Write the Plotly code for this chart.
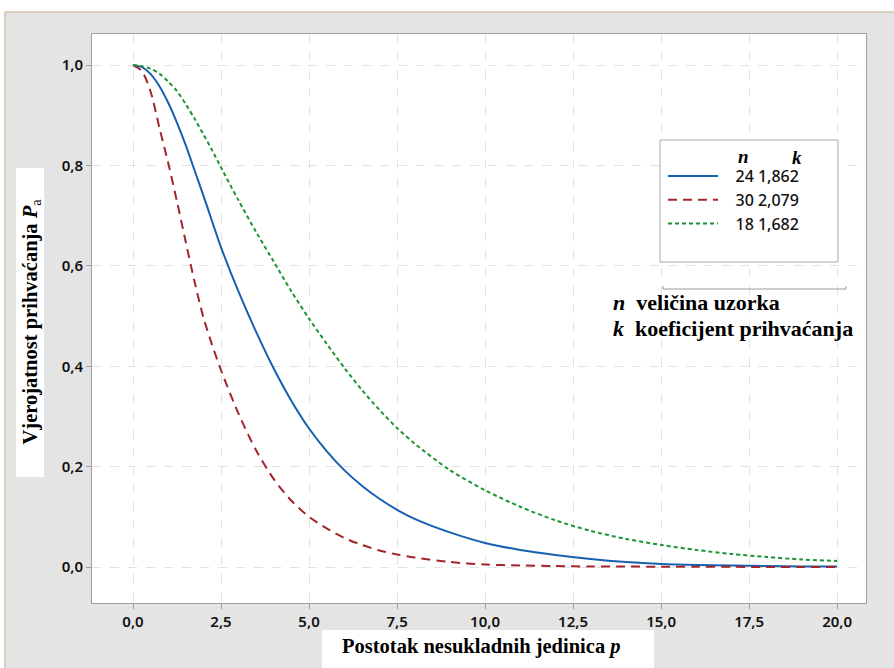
import plotly.graph_objects as go

# Postotak nesukladnih jedinica p (%)
p = [0, 0.25, 0.5, 0.75, 1.0, 1.25, 1.5, 1.75, 2.0, 2.25, 2.5, 3.0, 3.5, 4.0, 4.5,
     5.0, 5.5, 6.0, 6.5, 7.0, 7.5, 8.0, 9.0, 10.0, 11.0, 12.0, 13.0, 14.0, 15.0,
     16.0, 17.0, 18.0, 19.0, 20.0]

# n = 24, k = 1,862
pa_24 = [1.0, 0.996, 0.982, 0.958, 0.925, 0.885, 0.84, 0.79, 0.74, 0.688, 0.637, 0.548,
         0.468, 0.395, 0.331, 0.276, 0.231, 0.193, 0.162, 0.136, 0.114, 0.096, 0.069,
         0.048, 0.034, 0.024, 0.016, 0.010, 0.006, 0.004, 0.003, 0.002, 0.001, 0.001]

# n = 30, k = 2,079
pa_30 = [1.0, 0.988, 0.947, 0.875, 0.805, 0.728, 0.647, 0.568, 0.497, 0.442, 0.392, 0.305,
         0.232, 0.175, 0.132, 0.100, 0.077, 0.058, 0.044, 0.033, 0.025, 0.019, 0.010,
         0.005, 0.003, 0.002, 0.001, 0.001, 0.0005, 0.0004, 0.0003, 0.0002, 0.0001, 0.0]

# n = 18, k = 1,682
pa_18 = [1.0, 0.998, 0.993, 0.983, 0.967, 0.948, 0.922, 0.893, 0.862, 0.83, 0.796, 0.73,
         0.667, 0.608, 0.549, 0.495, 0.445, 0.397, 0.353, 0.313, 0.277, 0.246, 0.193,
         0.153, 0.12, 0.093, 0.072, 0.056, 0.044, 0.034, 0.026, 0.020, 0.015, 0.012]

series_names = ["24 1,862", "30 2,079", "18 1,682"]
x_ticks = [0, 2.5, 5, 7.5, 10, 12.5, 15, 17.5, 20]
y_ticks = [0, 0.2, 0.4, 0.6, 0.8, 1.0]

W, H = 894, 668
L, R, T, B = 92, 866, 34, 603  # plot area in pixels


def px(x):
    return (x - L) / (R - L)


def py(y):
    return (B - y) / (B - T)


fig = go.Figure()
styles = [
    dict(color="#1560b0", width=2, dash="solid"),
    dict(color="#a3242a", width=2, dash="9px,6px"),
    dict(color="#1d9433", width=2, dash="4px,3px"),
]
pad = "\u00a0\u00a0\u00a0"
for name, ys, st, g in zip(series_names, [pa_24, pa_30, pa_18], styles, ["a", "b", "c"]):
    fig.add_trace(go.Scatter(x=p, y=ys, mode="lines", name=pad + name, line=st,
                             line_shape="spline", line_smoothing=0.8, legendgroup=g))

serif = "Liberation Serif"
sans = "Noto Sans"

shapes = [
    dict(type="rect", xref="paper", yref="paper", x0=px(0), x1=px(W), y0=py(12), y1=py(0),
         fillcolor="white", line=dict(width=0), layer="below"),
    dict(type="rect", xref="paper", yref="paper", x0=px(0), x1=px(5), y0=py(H), y1=py(12),
         fillcolor="white", line=dict(width=0), layer="below"),
    dict(type="line", xref="paper", yref="paper", x0=px(5), x1=px(W), y0=py(12), y1=py(12),
         line=dict(color="#d8d0b8", width=2)),
    dict(type="line", xref="paper", yref="paper", x0=px(5), x1=px(5), y0=py(H), y1=py(12),
         line=dict(color="#d8d0b8", width=2)),
    dict(type="rect", xref="paper", yref="paper", x0=px(16), x1=px(44), y0=py(477), y1=py(168),
         fillcolor="white", line=dict(width=0)),
    dict(type="rect", xref="paper", yref="paper", x0=px(322), x1=px(654), y0=py(668), y1=py(630),
         fillcolor="white", line=dict(width=0)),
    dict(type="rect", xref="paper", yref="paper", x0=px(660), x1=px(838), y0=py(262), y1=py(140),
         fillcolor="white", line=dict(color="#a8a8a8", width=1)),
    dict(type="path", xref="paper", yref="paper",
         path=f"M {px(663)} {py(286)} L {px(663)} {py(289)} L {px(846)} {py(289)} L {px(846)} {py(286)}",
         line=dict(color="#9a9a9a", width=1)),
]

annotations = [
    dict(text="<b>Vjerojatnost prihvaćanja <i>P</i></b><sub>a</sub>", xref="paper", yref="paper",
         x=px(30.5), y=py(322), textangle=-90, showarrow=False,
         font=dict(family=serif, size=20.5, color="black"), xanchor="center", yanchor="middle"),
    dict(text="<b>Postotak nesukladnih jedinica <i>p</i></b>", xref="paper", yref="paper",
         x=px(481), y=py(646), showarrow=False,
         font=dict(family=serif, size=20.5, color="black"), xanchor="center", yanchor="middle"),
    dict(text="<b><i>n</i></b>", xref="paper", yref="paper", x=px(751), y=py(144),
         showarrow=False, font=dict(family=serif, size=19, color="black")),
    dict(text="<b><i>k</i></b>", xref="paper", yref="paper", x=px(804), y=py(145),
         showarrow=False, font=dict(family=serif, size=19, color="black")),
    dict(text="<b><i>n</i>  veličina uzorka</b>", xref="paper", yref="paper", x=px(611), y=py(302),
         xanchor="left", showarrow=False, font=dict(family=serif, size=22, color="black")),
    dict(text="<b><i>k</i>  koeficijent prihvaćanja</b>", xref="paper", yref="paper", x=px(611),
         y=py(329), xanchor="left", showarrow=False,
         font=dict(family=serif, size=22, color="black")),
]

axis_common = dict(
    showline=True, linecolor="#a0a0a0", linewidth=1, mirror=True,
    ticks="outside", ticklen=5, tickcolor="#a0a0a0",
    showgrid=True, gridcolor="#e2e2e2", griddash="dash", gridwidth=1,
    zeroline=False, tickfont=dict(family=sans, size=15, color="#111111", weight=600),
)

fig.update_layout(
    width=W, height=H,
    margin=dict(l=L, r=W - R, t=T, b=H - B, autoexpand=False),
    paper_bgcolor="#e4e4e4", plot_bgcolor="white",
    separators=",.",
    showlegend=True,
    legend=dict(x=px(663), y=py(159), xanchor="left", yanchor="top",
                bgcolor="rgba(0,0,0,0)", borderwidth=0, tracegroupgap=0, itemwidth=50,
                font=dict(family=sans, size=16, color="#111", weight=500)),
    xaxis=dict(range=[-1.165, 20.82], tickvals=x_ticks, tickformat=".1f", **axis_common),
    yaxis=dict(range=[-0.0717, 1.062], tickvals=y_ticks, tickformat=".1f", **axis_common),
    shapes=shapes, annotations=annotations,
)

fig.write_html("out.html", config={"displayModeBar": False},
               post_script="document.body.style.margin='0';")
